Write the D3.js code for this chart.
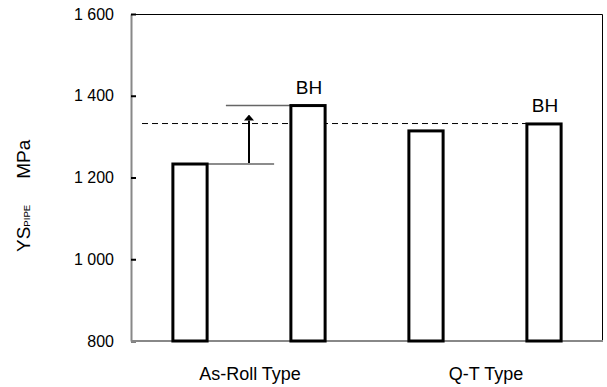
<!DOCTYPE html>
<meta charset="utf-8">
<head>
<style>
  body { margin: 0; background: #fff; }
  text { font-family: Arial, "Liberation Sans", sans-serif; fill: #000; }
</style>
</head>
<body>
    <div id="my_dataviz"></div>
    <script src="https://d3js.org/d3.v7.min.js"></script>
<script>
    // data
    const bars = ["asroll", "asroll_bh", "qt", "qt_bh"];
    const ysValues = [1233, 1376, 1314, 1331];
    const bhLabels = ["", "BH", "", "BH"];
    const groups = ["As-Roll Type", "Q-T Type"];
    const yTicks = [800, 1000, 1200, 1400, 1600];
    const refLine = 1332;

    const W = 607, H = 387;
    const margin = {top: 14, right: 4, bottom: 46, left: 131};
    const width = W - margin.left - margin.right,
          height = H - margin.top - margin.bottom;

    const svg = d3.select("#my_dataviz")
      .append("svg")
        .attr("width", W)
        .attr("height", H)
      .append("g")
        .attr("transform", `translate(${margin.left}, ${margin.top})`);

    const x = d3.scaleBand()
      .domain(bars)
      .range([0, width])
      .paddingInner(0.71)
      .paddingOuter(0.355);

    const y = d3.scaleLinear()
      .domain([800, 1600])
      .range([height, 0]);

    // frame: top and right black
    svg.append("path")
      .attr("d", `M0,0.5H${width - 0.5}V${height}`)
      .attr("fill", "none")
      .attr("stroke", "#000")
      .attr("stroke-width", 1);

    // left axis (gray), ticks inward
    const yAxis = svg.append("g")
      .call(d3.axisLeft(y)
        .tickValues(yTicks)
        .tickSizeInner(-5)
        .tickSizeOuter(0)
        .tickPadding(17)
        .tickFormat(d => d3.format(",")(d).replace(",", " ")));
    yAxis.select(".domain").attr("stroke", "#888").attr("stroke-width", 2);
    yAxis.selectAll(".tick line").attr("stroke", "#000").attr("stroke-width", 2);
    yAxis.selectAll(".tick text")
      .style("font-size", "16px")
      .attr("font-family", null);

    // bottom axis line
    svg.append("line")
      .attr("x1", 0).attr("x2", width)
      .attr("y1", height).attr("y2", height)
      .attr("stroke", "#888")
      .attr("stroke-width", 2);

    // dashed reference line
    svg.append("line")
      .attr("x1", 11)
      .attr("x2", x(bars[3]))
      .attr("y1", y(refLine)).attr("y2", y(refLine))
      .attr("stroke", "#000")
      .attr("stroke-width", 1)
      .attr("stroke-dasharray", "6,4");

    // thin guide lines at the two As-Roll tops
    svg.append("line")
      .attr("x1", x(bars[0]) + x.bandwidth())
      .attr("x2", x(bars[0]) + x.bandwidth() + 67)
      .attr("y1", y(ysValues[0])).attr("y2", y(ysValues[0]))
      .attr("stroke", "#666").attr("stroke-width", 1.5);
    svg.append("line")
      .attr("x1", x(bars[1]) - 65)
      .attr("x2", x(bars[1]))
      .attr("y1", y(ysValues[1])).attr("y2", y(ysValues[1]))
      .attr("stroke", "#666").attr("stroke-width", 1.5);

    // arrow
    const ax = (x(bars[0]) + x.bandwidth() + x(bars[1])) / 2;
    svg.append("defs").append("marker")
      .attr("id", "head")
      .attr("viewBox", "0 0 6 10")
      .attr("refX", 0).attr("refY", 5)
      .attr("markerWidth", 3).attr("markerHeight", 5)
      .attr("orient", "auto")
      .append("path")
        .attr("d", "M0,0L6,5L0,10Z")
        .attr("fill", "#000");
    svg.append("line")
      .attr("x1", ax).attr("x2", ax)
      .attr("y1", y(ysValues[0]) - 1)
      .attr("y2", y(ysValues[1]) + 15)
      .attr("stroke", "#000")
      .attr("stroke-width", 2)
      .attr("marker-end", "url(#head)");

    // bars
    svg.append("g")
      .selectAll("rect")
      .data(bars)
      .join("rect")
        .attr("x", d => x(d))
        .attr("y", (d, i) => y(ysValues[i]))
        .attr("width", x.bandwidth())
        .attr("height", (d, i) => height - y(ysValues[i]))
        .attr("fill", "#fff")
        .attr("stroke", "#000")
        .attr("stroke-width", 3);

    // BH labels
    svg.append("g")
      .selectAll("text")
      .data(bars)
      .join("text")
        .attr("x", d => x(d) + x.bandwidth() / 2 + 1)
        .attr("y", (d, i) => y(ysValues[i]) - 12)
        .attr("text-anchor", "middle")
        .style("font-size", "19px")
        .text((d, i) => bhLabels[i]);

    // group labels
    svg.append("g")
      .selectAll("text")
      .data(groups)
      .join("text")
        .attr("x", (d, i) => (x(bars[i * 2]) + x(bars[i * 2 + 1]) + x.bandwidth()) / 2 + 1)
        .attr("y", height + 39)
        .attr("text-anchor", "middle")
        .style("font-size", "18px")
        .text(d => d);

    // y title
    const yt = svg.append("text")
      .attr("transform", `translate(${30 - margin.left}, ${252 - margin.top}) rotate(-90)`)
      .style("font-size", "19px");
    yt.append("tspan").text("YS");
    yt.append("tspan").style("font-size", "9.6px").text("PIPE");
    yt.append("tspan").attr("dx", 26).text("MPa");
</script>
</body>
